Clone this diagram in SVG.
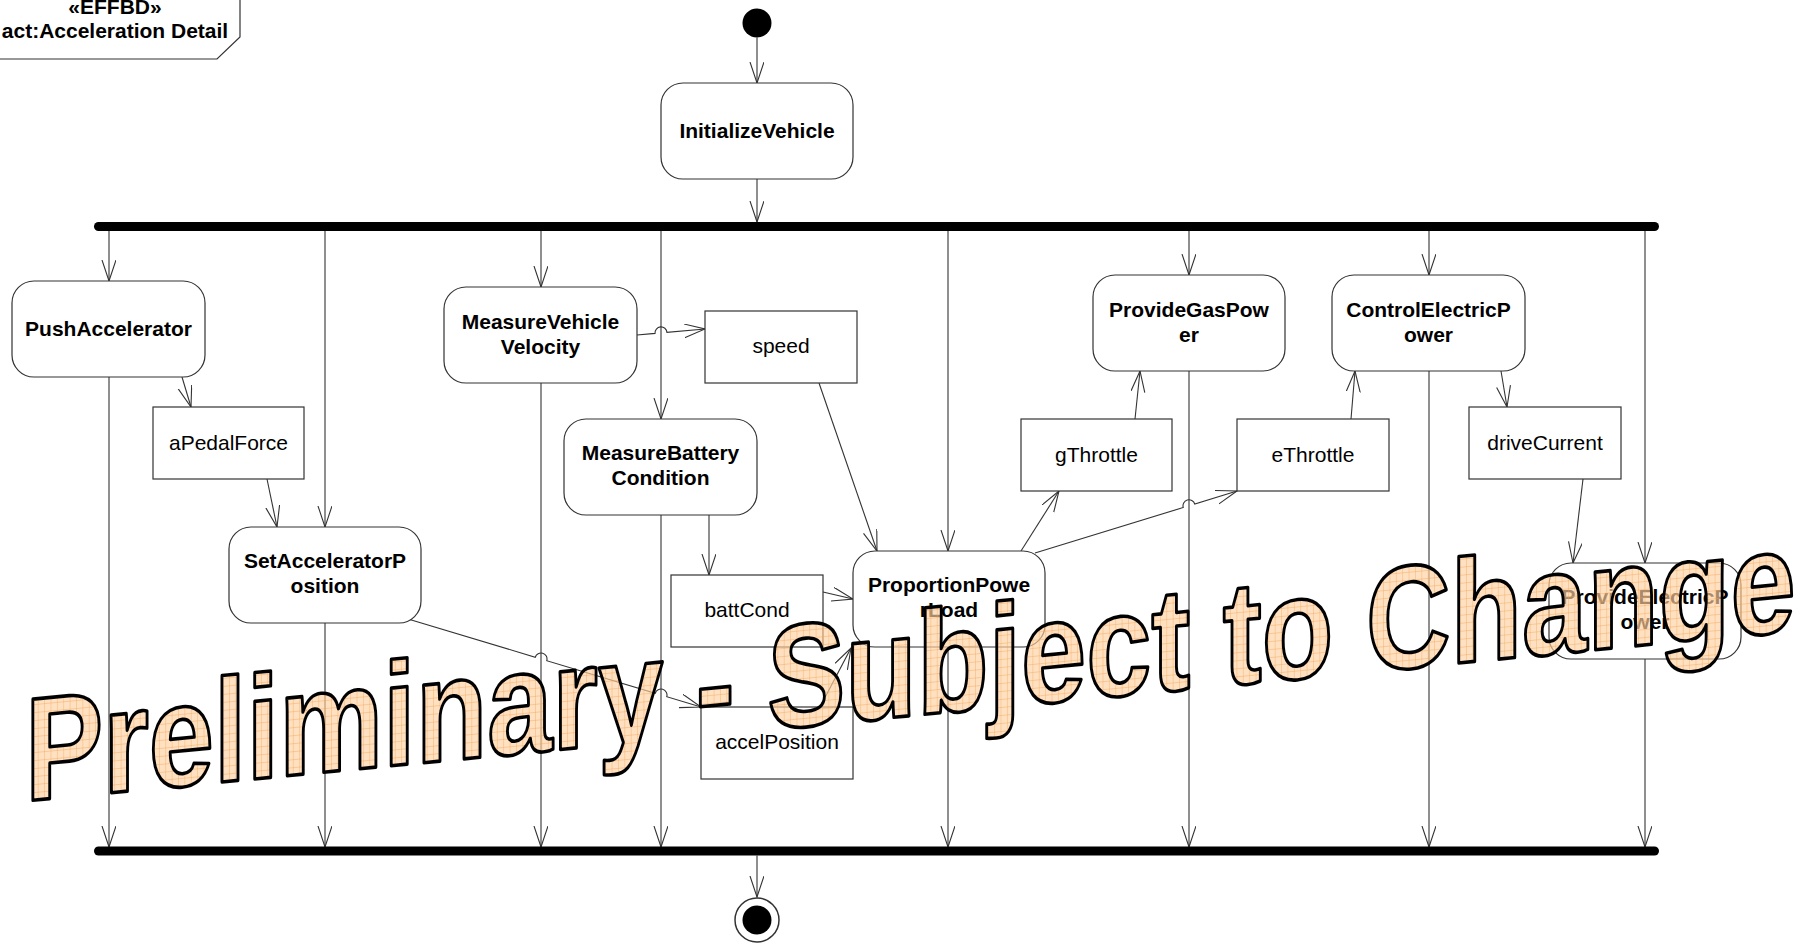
<svg xmlns="http://www.w3.org/2000/svg" width="1803" height="948" viewBox="0 0 1803 948">
  <style>
    .act { fill: #fff; stroke: #333; stroke-width: 1.2; }
    .obj { fill: #fff; stroke: #333; stroke-width: 1.2; }
    .bar { fill: #000; }
    .flow { fill: none; stroke: #333; stroke-width: 1.1; marker-end: url(#open); }
    .lbl { font-family: "Liberation Sans", Arial, sans-serif; font-size: 21px; font-weight: bold; fill: #000; text-anchor: middle; }
    .olbl { font-family: "Liberation Sans", Arial, sans-serif; font-size: 21px; fill: #000; text-anchor: middle; }
    .wm { font-family: "Liberation Sans", Arial, sans-serif; font-size: 147px; font-weight: bold; fill: url(#grid); stroke: #000; stroke-width: 3.6; stroke-linejoin: round; }
  </style>
  <defs>
    <marker id="open" markerUnits="userSpaceOnUse" markerWidth="24" markerHeight="18" refX="21" refY="7" orient="auto">
      <path d="M0,0 L21,7 L0,14" fill="none" stroke="#333" stroke-width="1.1"/>
    </marker>
    <pattern id="grid" patternUnits="userSpaceOnUse" width="8" height="8">
      <rect width="8" height="8" fill="#FFCF9F" fill-opacity="0.66"/>
      <path d="M0,0.4 H8 M0.4,0 V8" stroke="#F0A050" stroke-width="0.8" stroke-opacity="0.6" fill="none"/>
    </pattern>
  </defs>

  <rect width="1803" height="948" fill="#fff"/>

  <!-- diagram frame label -->
  <g id="frame">
    <path d="M0,59 H217 L240,37 V0" fill="none" stroke="#333" stroke-width="1.2"/>
    <text class="lbl" x="115" y="14">«EFFBD»</text>
    <text class="lbl" x="115" y="38">act:Acceleration Detail</text>
  </g>

  <!-- control and object flows -->
  <g id="connectors">
    <path class="flow" d="M757,37.5 V83"/>
    <path class="flow" d="M757,179 V222"/>

    <path class="flow" d="M109,231 V281"/>
    <path class="flow" d="M325,231 V527"/>
    <path class="flow" d="M541,231 V287"/>
    <path class="flow" d="M661,231 V419"/>
    <path class="flow" d="M948,231 V551"/>
    <path class="flow" d="M1189,231 V275"/>
    <path class="flow" d="M1429,231 V275"/>
    <path class="flow" d="M1645,231 V563"/>

    <path class="flow" d="M109,377 V847"/>
    <path class="flow" d="M325,623 V847"/>
    <path class="flow" d="M541,383 V847"/>
    <path class="flow" d="M661,515 V847"/>
    <path class="flow" d="M948,647 V847"/>
    <path class="flow" d="M1189,371 V847"/>
    <path class="flow" d="M1429,371 V847"/>
    <path class="flow" d="M1645,659 V847"/>

    <path class="flow" d="M757,855.5 V897"/>

    <path class="flow" d="M182,377 L191,407"/>
    <path class="flow" d="M267,479 L277,527"/>
    <path class="flow" d="M637,335 L655.02,333.41 A6,6 0 0 1 666.98,332.35 L705,329"/>
    <path class="flow" d="M819,383 L877,551"/>
    <path class="flow" d="M709,515 V575"/>
    <path class="flow" d="M823,592 L853,599"/>
    <path class="flow" d="M408,619 L535.25,657.22 A6,6 0 0 1 546.75,660.68 L655.25,693.26 A6,6 0 0 1 666.75,696.72 L701,707"/>
    <path class="flow" d="M820,707 L851,648"/>
    <path class="flow" d="M1021,551 L1059,491"/>
    <path class="flow" d="M1035,553 L1183.26,507.49 A6,6 0 0 1 1194.74,503.97 L1237,491"/>
    <path class="flow" d="M1135,419 L1140,371"/>
    <path class="flow" d="M1351,419 L1355,371"/>
    <path class="flow" d="M1501,371 L1507,407"/>
    <path class="flow" d="M1583,479 L1573,563"/>
  </g>

  <g id="initial">
    <circle cx="757" cy="23" r="14.5" fill="#000"/>
  </g>

  <g id="fork">
    <rect class="bar" x="94" y="222" width="1565" height="9" rx="4.5"/>
  </g>
  <g id="join">
    <rect class="bar" x="94" y="846.5" width="1565" height="9" rx="4.5"/>
  </g>

  <g id="final">
    <circle cx="757" cy="920" r="22" fill="#fff" stroke="#333" stroke-width="1.5"/>
    <circle cx="757" cy="920" r="14.5" fill="#000"/>
  </g>

  <g id="InitializeVehicle">
    <rect class="act" x="661" y="83" width="192" height="96" rx="22"/>
    <text class="lbl" x="757" y="137.5">InitializeVehicle</text>
  </g>
  <g id="PushAccelerator">
    <rect class="act" x="12" y="281" width="193" height="96" rx="22"/>
    <text class="lbl" x="108.5" y="336">PushAccelerator</text>
  </g>
  <g id="SetAcceleratorPosition">
    <rect class="act" x="229" y="527" width="192" height="96" rx="22"/>
    <text class="lbl" x="325" y="568">SetAcceleratorP</text>
    <text class="lbl" x="325" y="593">osition</text>
  </g>
  <g id="MeasureVehicleVelocity">
    <rect class="act" x="444" y="287" width="193" height="96" rx="22"/>
    <text class="lbl" x="540.5" y="329">MeasureVehicle</text>
    <text class="lbl" x="540.5" y="354">Velocity</text>
  </g>
  <g id="MeasureBatteryCondition">
    <rect class="act" x="564" y="419" width="193" height="96" rx="22"/>
    <text class="lbl" x="660.5" y="460">MeasureBattery</text>
    <text class="lbl" x="660.5" y="485">Condition</text>
  </g>
  <g id="ProportionPowerLoad">
    <rect class="act" x="853" y="551" width="192" height="96" rx="22"/>
    <text class="lbl" x="949" y="592">ProportionPowe</text>
    <text class="lbl" x="949" y="617">rLoad</text>
  </g>
  <g id="ProvideGasPower">
    <rect class="act" x="1093" y="275" width="192" height="96" rx="22"/>
    <text class="lbl" x="1189" y="317">ProvideGasPow</text>
    <text class="lbl" x="1189" y="342">er</text>
  </g>
  <g id="ControlElectricPower">
    <rect class="act" x="1332" y="275" width="193" height="96" rx="22"/>
    <text class="lbl" x="1428.5" y="317">ControlElectricP</text>
    <text class="lbl" x="1428.5" y="342">ower</text>
  </g>
  <g id="ProvideElectricPower">
    <rect class="act" x="1549" y="563" width="192" height="96" rx="22"/>
    <text class="lbl" x="1645" y="604">ProvideElectricP</text>
    <text class="lbl" x="1645" y="629">ower</text>
  </g>

  <g id="aPedalForce">
    <rect class="obj" x="153" y="407" width="151" height="72"/>
    <text class="olbl" x="228.5" y="449.5">aPedalForce</text>
  </g>
  <g id="speed">
    <rect class="obj" x="705" y="311" width="152" height="72"/>
    <text class="olbl" x="781" y="353">speed</text>
  </g>
  <g id="battCond">
    <rect class="obj" x="671" y="575" width="152" height="72"/>
    <text class="olbl" x="747" y="617">battCond</text>
  </g>
  <g id="accelPosition">
    <rect class="obj" x="701" y="707" width="152" height="72"/>
    <text class="olbl" x="777" y="749">accelPosition</text>
  </g>
  <g id="gThrottle">
    <rect class="obj" x="1021" y="419" width="151" height="72"/>
    <text class="olbl" x="1096.5" y="461.5">gThrottle</text>
  </g>
  <g id="eThrottle">
    <rect class="obj" x="1237" y="419" width="152" height="72"/>
    <text class="olbl" x="1313" y="461.5">eThrottle</text>
  </g>
  <g id="driveCurrent">
    <rect class="obj" x="1469" y="407" width="152" height="72"/>
    <text class="olbl" x="1545" y="449.5">driveCurrent</text>
  </g>

  <!-- draft watermark across the sheet -->
  <g id="watermark">
    <text class="wm" x="0" y="0" transform="translate(25,801) skewY(-5.5) scale(0.797,1)">Preliminary - Subject to Change</text>
  </g>
</svg>
